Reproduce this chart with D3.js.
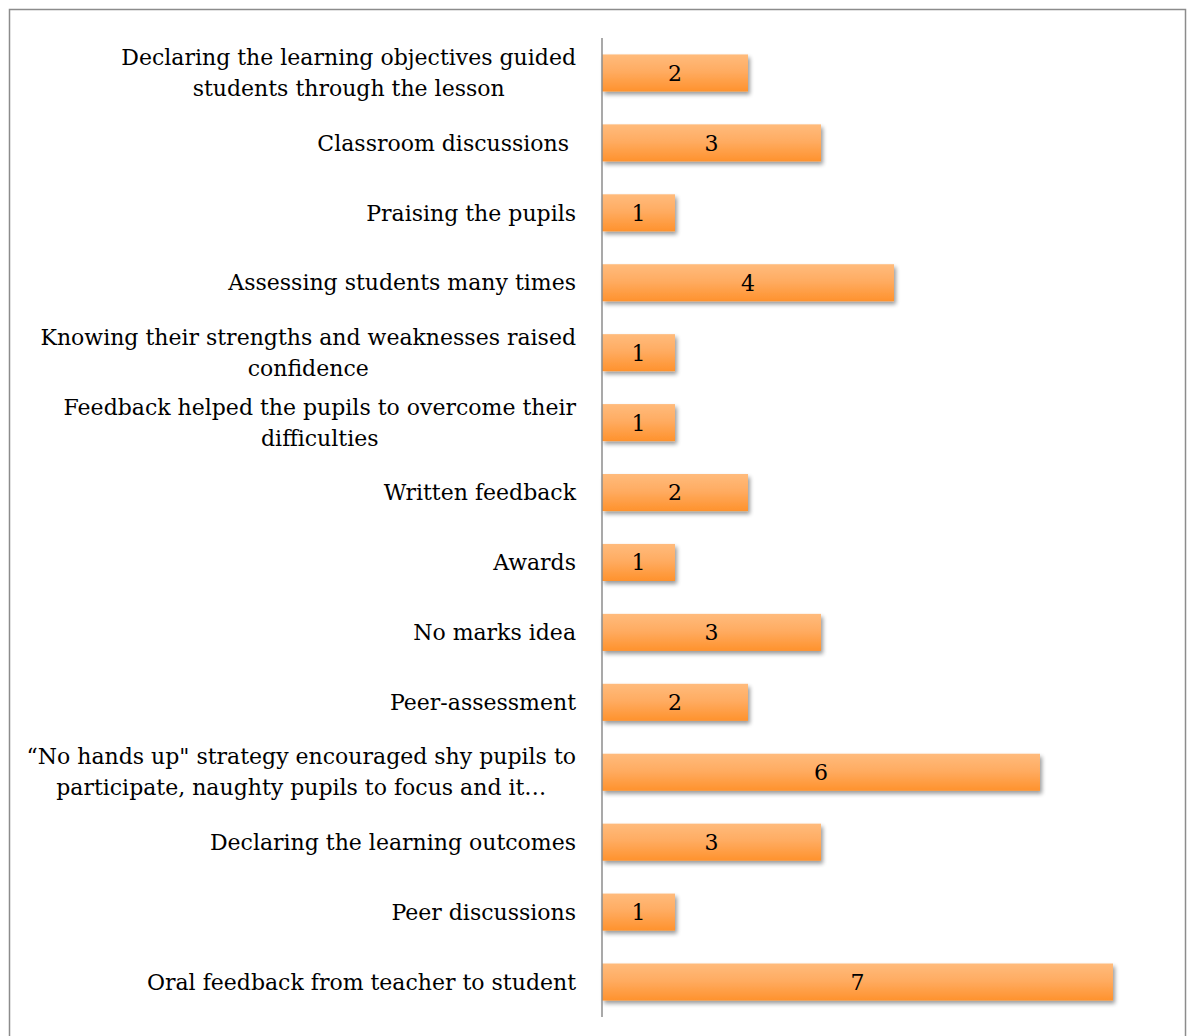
<!DOCTYPE html>
<html>
<head>
<meta charset="utf-8">
<script src="https://cdn.jsdelivr.net/npm/d3@7"></script>
<style>
  html, body { margin: 0; padding: 0; background: #fff; }
  svg { display: block; }
</style>
</head>
<body>
<svg id="chart" width="1191" height="1036"></svg>
<script>
// Strategies, listed top to bottom, each as its wrapped label lines
const categories = [
  ["Declaring the learning objectives guided", "students through the lesson"],
  ["Classroom discussions "],
  ["Praising the pupils"],
  ["Assessing students many times"],
  ["Knowing their strengths and weaknesses raised", "confidence"],
  ["Feedback helped the pupils to overcome their", "difficulties"],
  ["Written feedback"],
  ["Awards"],
  ["No marks idea"],
  ["Peer-assessment"],
  ["\u201CNo hands up\" strategy encouraged shy pupils to", "participate, naughty pupils to focus and it\u2026"],
  ["Declaring the learning outcomes"],
  ["Peer discussions"],
  ["Oral feedback from teacher to student"]
];
const values = [2, 3, 1, 4, 1, 1, 2, 1, 3, 2, 6, 3, 1, 7];

const svg = d3.select("#chart");
const fontFamily = "'DejaVu Serif', serif";

// frame around the chart area
svg.append("rect")
  .attr("x", 9.5).attr("y", 9.5)
  .attr("width", 1176).attr("height", 1040)
  .attr("fill", "none").attr("stroke", "#8c8c8c").attr("stroke-width", 1.5);

const axisX = 602, plotTop = 38, plotBottom = 1017;
const x = d3.scaleLinear().domain([0, 7]).range([axisX, axisX + 511]);
const idx = d3.range(categories.length);
const y = d3.scaleBand().domain(idx).range([plotTop, plotBottom]).paddingInner(0.47).paddingOuter(0.235);

const defs = svg.append("defs");
const grad = defs.append("linearGradient").attr("id", "barGrad")
  .attr("x1", 0).attr("y1", 0).attr("x2", 0).attr("y2", 1);
grad.append("stop").attr("offset", "0%").attr("stop-color", "#ffbb7c");
grad.append("stop").attr("offset", "45%").attr("stop-color", "#ffac62");
grad.append("stop").attr("offset", "100%").attr("stop-color", "#ff922d");

const shadow = defs.append("filter").attr("id", "barShadow")
  .attr("x", "-5%").attr("y", "-20%").attr("width", "115%").attr("height", "160%");
shadow.append("feGaussianBlur").attr("in", "SourceAlpha").attr("stdDeviation", 2).attr("result", "b");
shadow.append("feOffset").attr("in", "b").attr("dx", 2).attr("dy", 3).attr("result", "o");
shadow.append("feComponentTransfer").attr("in", "o").attr("result", "s")
  .append("feFuncA").attr("type", "linear").attr("slope", 0.4);
const merge = shadow.append("feMerge");
merge.append("feMergeNode").attr("in", "s");
merge.append("feMergeNode").attr("in", "SourceGraphic");

// bars
svg.append("g").selectAll("rect").data(idx).join("rect")
  .attr("x", x(0))
  .attr("y", i => y(i))
  .attr("width", i => x(values[i]) - x(0))
  .attr("height", y.bandwidth())
  .attr("fill", "url(#barGrad)")
  .attr("filter", "url(#barShadow)");

// value labels
svg.append("g").selectAll("text").data(idx).join("text")
  .attr("x", i => (x(0) + x(values[i])) / 2)
  .attr("y", i => y(i) + y.bandwidth() / 2)
  .attr("dy", "0.36em")
  .attr("text-anchor", "middle")
  .attr("font-family", fontFamily)
  .attr("font-size", 22)
  .attr("fill", "#000")
  .text(i => values[i]);

// category axis line
svg.append("line")
  .attr("x1", axisX).attr("x2", axisX)
  .attr("y1", plotTop).attr("y2", plotBottom)
  .attr("stroke", "#8c8c8c").attr("stroke-width", 1.5);

// category labels: the block is right aligned, its lines centred within it
const lineH = 31, labelRight = 576;
const labels = svg.append("g").selectAll("g").data(idx).join("g");
labels.each(function(i) {
  const lines = categories[i];
  const cy = y(i) + y.bandwidth() / 2;
  const g = d3.select(this);
  const texts = lines.map((ln, k) => g.append("text")
    .attr("font-family", fontFamily)
    .attr("font-size", 22)
    .attr("fill", "#000")
    .attr("text-anchor", "middle")
    .attr("y", cy + (k - (lines.length - 1) / 2) * lineH)
    .attr("dy", "0.35em")
    .attr("xml:space", "preserve")
    .text(ln));
  const widest = d3.max(texts, t => t.node().getComputedTextLength());
  texts.forEach(t => t.attr("x", labelRight - widest / 2));
});
</script>
</body>
</html>
